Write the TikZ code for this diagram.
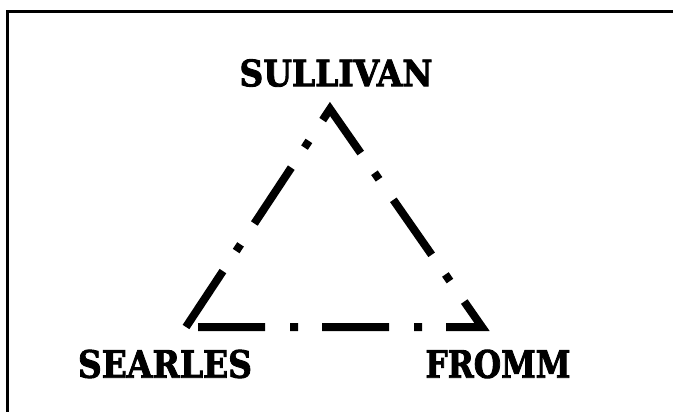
\documentclass[tikz,border=0pt]{standalone}
\usepackage{graphicx}
\usepackage{fontspec}
\setmainfont{DejaVu Serif}[BoldFeatures={FakeBold=2.5}]
\tikzset{
  frameline/.style={line width=3pt, line join=miter},
  tri/.style={line width=8pt, line join=miter, line cap=butt,
    dash pattern=on 67pt off 24pt on 8pt off 25pt},
  lbl/.style={inner sep=0pt, outer sep=0pt, anchor=center}
}
\begin{document}
\begin{tikzpicture}[x=1pt,y=-1pt]
\useasboundingbox (0,0) rectangle (673,412);
\fill[white] (0,0) rectangle (673,412);
% frame (top and left only)
\coordinate (fb) at (7.5,412);
\coordinate (fc) at (7.5,11.5);
\coordinate (fr) at (673,11.5);
\draw[frameline] (fb) -- (fc) -- (fr);
% triangle vertices
\coordinate (BL) at (186,327);
\coordinate (AP) at (330,109);
\coordinate (BR) at (482,327);
\draw[tri] (BL) -- (AP) -- (BR) -- cycle;
% labels
\node[lbl] (sullivan) at (336,73) {\resizebox{193pt}{27pt}{\bfseries SULLIVAN}};
\node[lbl] (searles) at (165,364) {\resizebox{174pt}{28pt}{\bfseries SEARLES}};
\node[lbl] (fromm) at (498,364) {\resizebox{145pt}{28pt}{\bfseries FROMM}};
\end{tikzpicture}
\end{document}
